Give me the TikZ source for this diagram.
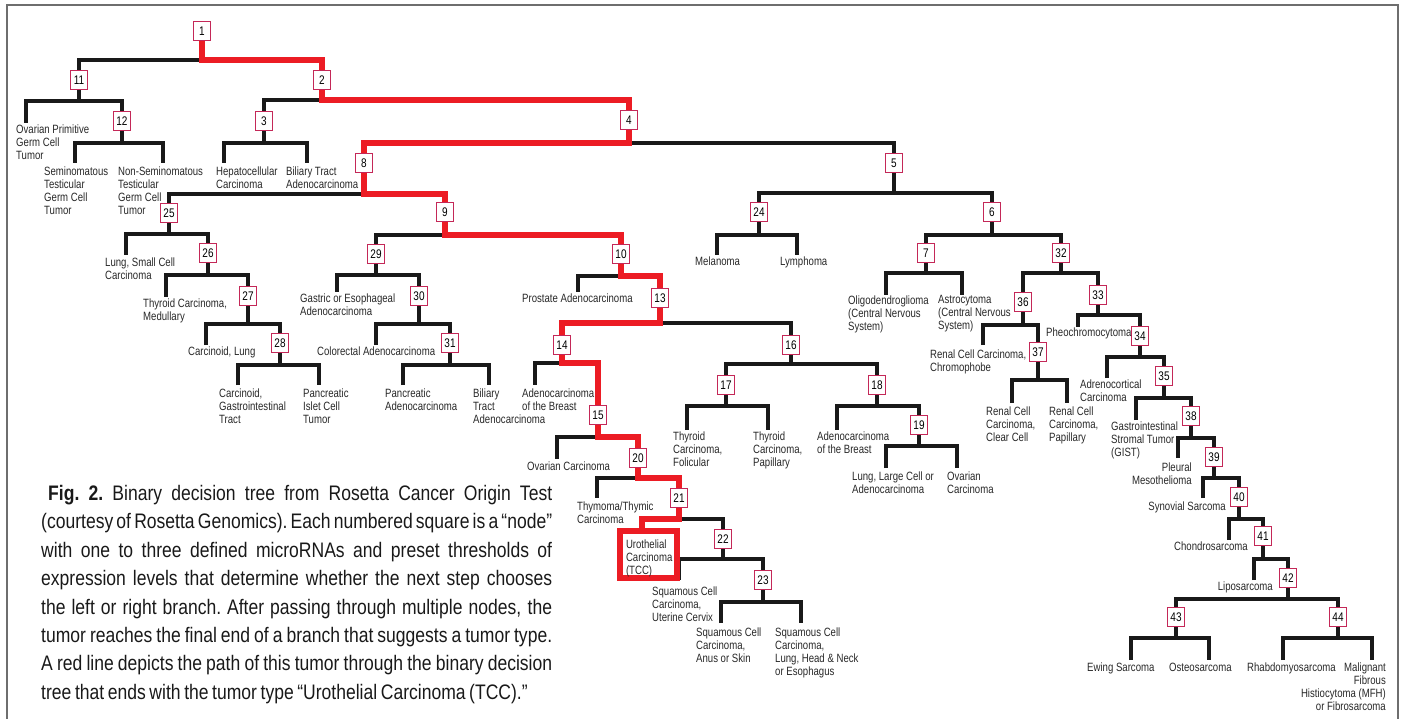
\documentclass[tikz,border=0pt]{standalone}
\usepackage{fontspec}
\setmainfont{Liberation Sans}[FakeStretch=0.8]
\newfontfamily\capfont{Liberation Sans}[FakeStretch=0.835]
\usetikzlibrary{calc}
\pgfdeclarelayer{bg}
\pgfsetlayers{bg,main}
\definecolor{boxc}{RGB}{196,40,88}
\definecolor{redc}{RGB}{236,28,36}
\definecolor{labc}{RGB}{40,40,40}
\definecolor{framec}{RGB}{110,110,110}
\begin{document}
\begin{tikzpicture}[x=1pt,y=-1pt,
  box/.style={draw=boxc, line width=1.4pt, fill=white, minimum width=17.5pt, minimum height=18.5pt, inner sep=0pt, font=\fontsize{12.5}{13}\selectfont},
  leaf/.style={anchor=north west, inner sep=0pt, align=left, text=labc, font=\fontsize{12}{13}\selectfont},
  leafr/.style={leaf, anchor=north east, align=right},
  blk/.style={line width=4.3pt, draw=black!90},
  redp/.style={line width=6pt, draw=redc},
]
\useasboundingbox (0,0) rectangle (1403,719);
\draw[framec, line width=1.5pt] (7,719) -- (7,5) -- (1398,5) -- (1398,719);

% ---------- boxes ----------
\node[box] (n1) at (202,31) {1};
\node[box] (n2) at (322,80) {2};
\node[box] (n3) at (264,121) {3};
\node[box] (n4) at (629,120) {4};
\node[box] (n5) at (894,163) {5};
\node[box] (n6) at (992,212) {6};
\node[box] (n7) at (926,253) {7};
\node[box] (n8) at (364,163) {8};
\node[box] (n9) at (445,212) {9};
\node[box] (n10) at (621,254) {10};
\node[box] (n11) at (79,80) {11};
\node[box] (n12) at (122,121) {12};
\node[box] (n13) at (660,298) {13};
\node[box] (n14) at (562,345) {14};
\node[box] (n15) at (598,415) {15};
\node[box] (n16) at (791,345) {16};
\node[box] (n17) at (726,385) {17};
\node[box] (n18) at (877,385) {18};
\node[box] (n19) at (919,425) {19};
\node[box] (n20) at (638,458) {20};
\node[box] (n21) at (679,498) {21};
\node[box] (n22) at (723,539) {22};
\node[box] (n23) at (763,580) {23};
\node[box] (n24) at (759,212) {24};
\node[box] (n25) at (169,213) {25};
\node[box] (n26) at (208,253) {26};
\node[box] (n27) at (248,296) {27};
\node[box] (n28) at (280,343) {28};
\node[box] (n29) at (376,254) {29};
\node[box] (n30) at (419,296) {30};
\node[box] (n31) at (450,343) {31};
\node[box] (n32) at (1061,253) {32};
\node[box] (n33) at (1098,295) {33};
\node[box] (n34) at (1140,336) {34};
\node[box] (n35) at (1164,376) {35};
\node[box] (n36) at (1023,302) {36};
\node[box] (n37) at (1038,352) {37};
\node[box] (n38) at (1191,416) {38};
\node[box] (n39) at (1214,457) {39};
\node[box] (n40) at (1239,497) {40};
\node[box] (n41) at (1263,536) {41};
\node[box] (n42) at (1288,578) {42};
\node[box] (n43) at (1176,617) {43};
\node[box] (n44) at (1338,617) {44};

\node[draw=redc, line width=6pt, fill=white, minimum width=57pt, minimum height=47pt, inner xsep=6pt, inner ysep=0pt, text width=45pt, align=left, text=labc, font=\fontsize{12}{13}\selectfont] (uro) at (648.5,554.5) {\rule{0pt}{16pt}Urothelial\\Carcinoma\\(TCC)};

% ---------- junctions ----------
\coordinate (n1j) at (202,60);   \coordinate (n2j) at (322,100);
\coordinate (n3j) at (264,143);  \coordinate (n4j) at (629,143);
\coordinate (n5j) at (894,193);  \coordinate (n6j) at (992,235);
\coordinate (n7j) at (926,273);  \coordinate (n8j) at (364,194);
\coordinate (n9j) at (445,235);  \coordinate (n10j) at (621,276);
\coordinate (n11j) at (79,101);  \coordinate (n12j) at (122,143);
\coordinate (n13j) at (660,323); \coordinate (n14j) at (562,363);
\coordinate (n15j) at (598,437); \coordinate (n16j) at (791,364);
\coordinate (n17j) at (726,406); \coordinate (n18j) at (877,406);
\coordinate (n19j) at (919,446); \coordinate (n20j) at (638,478);
\coordinate (n21j) at (679,519); \coordinate (n22j) at (723,559);
\coordinate (n23j) at (763,602); \coordinate (n24j) at (759,235);
\coordinate (n25j) at (169,234); \coordinate (n26j) at (208,275);
\coordinate (n27j) at (248,324); \coordinate (n28j) at (280,365);
\coordinate (n29j) at (376,275); \coordinate (n30j) at (419,324);
\coordinate (n31j) at (450,365); \coordinate (n32j) at (1061,273);
\coordinate (n33j) at (1098,315);\coordinate (n34j) at (1140,357);
\coordinate (n35j) at (1164,398);\coordinate (n36j) at (1023,325);
\coordinate (n37j) at (1038,380);\coordinate (n38j) at (1191,438);
\coordinate (n39j) at (1214,478);\coordinate (n40j) at (1239,519);
\coordinate (n41j) at (1263,559);\coordinate (n42j) at (1288,599);
\coordinate (n43j) at (1176,638);\coordinate (n44j) at (1338,638);
\coordinate (urotop) at ($(uro.north)+(-6.5,0)$);

% ---------- leaf stem ends ----------
\coordinate (s11a) at (26,123);  \coordinate (s12a) at (75,163);
\coordinate (s12b) at (163,163); \coordinate (s3a) at (224,163);
\coordinate (s3b) at (307,163);  \coordinate (s25a) at (126,255);
\coordinate (s26a) at (166,297); \coordinate (s27a) at (206,345);
\coordinate (s28a) at (238,385); \coordinate (s28b) at (319,385);
\coordinate (s29a) at (337,292); \coordinate (s30a) at (376,345);
\coordinate (s31a) at (403,385); \coordinate (s31b) at (489,385);
\coordinate (s10a) at (578,292); \coordinate (s14a) at (535,385);
\coordinate (s15a) at (557,459); \coordinate (s20a) at (597,498);
\coordinate (s22a) at (679,580); \coordinate (s23a) at (721,623);
\coordinate (s23b) at (801,623); \coordinate (s17a) at (687,430);
\coordinate (s17b) at (768,430); \coordinate (s18a) at (837,430);
\coordinate (s19a) at (886,468); \coordinate (s19b) at (957,468);
\coordinate (s24a) at (717,255); \coordinate (s24b) at (797,255);
\coordinate (s7a) at (886,295);  \coordinate (s7b) at (962,295);
\coordinate (s36a) at (983,345); \coordinate (s37a) at (1012,403);
\coordinate (s37b) at (1067,403);\coordinate (s33a) at (1078,327);
\coordinate (s34a) at (1107,378);\coordinate (s35a) at (1136,420);
\coordinate (s38a) at (1178,458);\coordinate (s39a) at (1203,498);
\coordinate (s40a) at (1229,540);\coordinate (s41a) at (1254,580);
\coordinate (s43a) at (1131,660);\coordinate (s43b) at (1209,660);
\coordinate (s44a) at (1283,660);\coordinate (s44b) at (1372,660);

% ---------- leaf labels ----------
\node[leaf] (t11a) at (16,124.5) {Ovarian Primitive\\Germ Cell\\Tumor};
\node[leaf] (t12a) at (44,166.5) {Seminomatous\\Testicular\\Germ Cell\\Tumor};
\node[leaf] (t12b) at (118,166.5) {Non-Seminomatous\\Testicular\\Germ Cell\\Tumor};
\node[leaf] (t3a) at (216,166.5) {Hepatocellular\\Carcinoma};
\node[leaf] (t3b) at (286,166.5) {Biliary Tract\\Adenocarcinoma};
\node[leaf] (t25a) at (105,257.5) {Lung, Small Cell\\Carcinoma};
\node[leaf] (t26a) at (143,298.5) {Thyroid Carcinoma,\\Medullary};
\node[leaf] (t27a) at (188,346.5) {Carcinoid, Lung};
\node[leaf] (t28a) at (219,388.5) {Carcinoid,\\Gastrointestinal\\Tract};
\node[leaf] (t28b) at (303,388.5) {Pancreatic\\Islet Cell\\Tumor};
\node[leaf] (t29a) at (300,293.5) {Gastric or Esophageal\\Adenocarcinoma};
\node[leaf] (t30a) at (317,346.5) {Colorectal Adenocarcinoma};
\node[leaf] (t31a) at (385,388.5) {Pancreatic\\Adenocarcinoma};
\node[leaf] (t31b) at (473,388.5) {Biliary\\Tract\\Adenocarcinoma};
\node[leaf] (t10a) at (522,293.5) {Prostate Adenocarcinoma};
\node[leaf] (t14a) at (522,388.5) {Adenocarcinoma\\of the Breast};
\node[leaf] (t15a) at (527,461.5) {Ovarian Carcinoma};
\node[leaf] (t20a) at (577,501.5) {Thymoma/Thymic\\Carcinoma};
\node[leaf] (t22a) at (652,586.5) {Squamous Cell\\Carcinoma,\\Uterine Cervix};
\node[leaf] (t23a) at (696,627.5) {Squamous Cell\\Carcinoma,\\Anus or Skin};
\node[leaf] (t23b) at (775,627.5) {Squamous Cell\\Carcinoma,\\Lung, Head \& Neck\\or Esophagus};
\node[leaf] (t17a) at (673,431.5) {Thyroid\\Carcinoma,\\Folicular};
\node[leaf] (t17b) at (753,431.5) {Thyroid\\Carcinoma,\\Papillary};
\node[leaf] (t18a) at (817,431.5) {Adenocarcinoma\\of the Breast};
\node[leaf] (t19a) at (852,471.5) {Lung, Large Cell or\\Adenocarcinoma};
\node[leaf] (t19b) at (947,471.5) {Ovarian\\Carcinoma};
\node[leaf] (t24a) at (695,256.5) {Melanoma};
\node[leaf] (t24b) at (780,256.5) {Lymphoma};
\node[leaf] (t7a) at (848,295.5) {Oligodendroglioma\\(Central Nervous\\System)};
\node[leaf] (t7b) at (938,295.5) {Astrocytoma\\(Central Nervous\\System)};
\node[leaf] (t36a) at (930,349.5) {Renal Cell Carcinoma,\\Chromophobe};
\node[leaf] (t37a) at (986,406.5) {Renal Cell\\Carcinoma,\\Clear Cell};
\node[leaf] (t37b) at (1049,406.5) {Renal Cell\\Carcinoma,\\Papillary};
\node[leaf] (t33a) at (1046,327.5) {Pheochromocytoma};
\node[leaf] (t34a) at (1080,379.5) {Adrenocortical\\Carcinoma};
\node[leaf] (t35a) at (1111,421.5) {Gastrointestinal\\Stromal Tumor\\(GIST)};
\node[leafr] (t38a) at (1192,462.5) {Pleural\\Mesothelioma};
\node[leafr] (t39a) at (1226,501.5) {Synovial Sarcoma};
\node[leafr] (t40a) at (1248,541.5) {Chondrosarcoma};
\node[leafr] (t41a) at (1273,581.5) {Liposarcoma};
\node[leaf] (t43a) at (1087,662.5) {Ewing Sarcoma};
\node[leaf] (t43b) at (1169,662.5) {Osteosarcoma};
\node[leaf] (t44a) at (1247,662.5) {Rhabdomyosarcoma};
\node[leafr] (t44b) at (1386,662.5) {Malignant\\Fibrous\\Histiocytoma (MFH)\\or Fibrosarcoma};

% ---------- caption ----------
\node[anchor=north west, inner sep=0pt, text width=511pt, align=justify, text=black!90, font=\capfont\fontsize{21}{28.4}\selectfont] (cap) at (41,485) {\spaceskip=3.6pt plus 12pt minus 1.3pt\xspaceskip=\spaceskip\hspace*{7pt}\textbf{Fig. 2.} Binary decision tree from Rosetta Cancer Origin Test\linebreak (courtesy of Rosetta Genomics). Each numbered square is a “node”\linebreak with one to three defined microRNAs and preset thresholds of\linebreak expression levels that determine whether the next step chooses\linebreak the left or right branch. After passing through multiple nodes, the\linebreak tumor reaches the final end of a branch that suggests a tumor type.\linebreak A red line depicts the path of this tumor through the binary decision\linebreak tree that ends with the tumor type “Urothelial Carcinoma (TCC).”};

% ---------- connectors ----------
\begin{pgfonlayer}{bg}
% black branches of red-path nodes
\draw[blk] (n1j) -| (n11.north);
\draw[blk] (n2j) -| (n3.north);
\draw[blk] (n4j) -| (n5.north);
\draw[blk] (n8j) -| (n25.north);
\draw[blk] (n9j) -| (n29.north);
\draw[blk] (n10j) -| (s10a);
\draw[blk] (n13j) -| (n16.north);
\draw[blk] (n14j) -| (s14a);
\draw[blk] (n15j) -| (s15a);
\draw[blk] (n20j) -| (s20a);
\draw[blk] (n21j) -| (n22.north);
% black-only nodes
\draw[blk] (n11.south) -- (n11j); \draw[blk] (s11a) |- (n11j) -| (n12.north);
\draw[blk] (n12.south) -- (n12j); \draw[blk] (s12a) |- (n12j) -| (s12b);
\draw[blk] (n3.south) -- (n3j);   \draw[blk] (s3a) |- (n3j) -| (s3b);
\draw[blk] (n5.south) -- (n5j);   \draw[blk] (n24.north) |- (n5j) -| (n6.north);
\draw[blk] (n24.south) -- (n24j); \draw[blk] (s24a) |- (n24j) -| (s24b);
\draw[blk] (n6.south) -- (n6j);   \draw[blk] (n7.north) |- (n6j) -| (n32.north);
\draw[blk] (n7.south) -- (n7j);   \draw[blk] (s7a) |- (n7j) -| (s7b);
\draw[blk] (n25.south) -- (n25j); \draw[blk] (s25a) |- (n25j) -| (n26.north);
\draw[blk] (n26.south) -- (n26j); \draw[blk] (s26a) |- (n26j) -| (n27.north);
\draw[blk] (n27.south) -- (n27j); \draw[blk] (s27a) |- (n27j) -| (n28.north);
\draw[blk] (n28.south) -- (n28j); \draw[blk] (s28a) |- (n28j) -| (s28b);
\draw[blk] (n29.south) -- (n29j); \draw[blk] (s29a) |- (n29j) -| (n30.north);
\draw[blk] (n30.south) -- (n30j); \draw[blk] (s30a) |- (n30j) -| (n31.north);
\draw[blk] (n31.south) -- (n31j); \draw[blk] (s31a) |- (n31j) -| (s31b);
\draw[blk] (n16.south) -- (n16j); \draw[blk] (n17.north) |- (n16j) -| (n18.north);
\draw[blk] (n17.south) -- (n17j); \draw[blk] (s17a) |- (n17j) -| (s17b);
\draw[blk] (n18.south) -- (n18j); \draw[blk] (s18a) |- (n18j) -| (n19.north);
\draw[blk] (n19.south) -- (n19j); \draw[blk] (s19a) |- (n19j) -| (s19b);
\draw[blk] (n22.south) -- (n22j); \draw[blk] (s22a) |- (n22j) -| (n23.north);
\draw[blk] (n23.south) -- (n23j); \draw[blk] (s23a) |- (n23j) -| (s23b);
\draw[blk] (n32.south) -- (n32j); \draw[blk] (n36.north) |- (n32j) -| (n33.north);
\draw[blk] (n36.south) -- (n36j); \draw[blk] (s36a) |- (n36j) -| (n37.north);
\draw[blk] (n37.south) -- (n37j); \draw[blk] (s37a) |- (n37j) -| (s37b);
\draw[blk] (n33.south) -- (n33j); \draw[blk] (s33a) |- (n33j) -| (n34.north);
\draw[blk] (n34.south) -- (n34j); \draw[blk] (s34a) |- (n34j) -| (n35.north);
\draw[blk] (n35.south) -- (n35j); \draw[blk] (s35a) |- (n35j) -| (n38.north);
\draw[blk] (n38.south) -- (n38j); \draw[blk] (s38a) |- (n38j) -| (n39.north);
\draw[blk] (n39.south) -- (n39j); \draw[blk] (s39a) |- (n39j) -| (n40.north);
\draw[blk] (n40.south) -- (n40j); \draw[blk] (s40a) |- (n40j) -| (n41.north);
\draw[blk] (n41.south) -- (n41j); \draw[blk] (s41a) |- (n41j) -| (n42.north);
\draw[blk] (n42.south) -- (n42j); \draw[blk] (n43.north) |- (n42j) -| (n44.north);
\draw[blk] (n43.south) -- (n43j); \draw[blk] (s43a) |- (n43j) -| (s43b);
\draw[blk] (n44.south) -- (n44j); \draw[blk] (s44a) |- (n44j) -| (s44b);
% red path
\draw[redp] (n1.south) -- (n1j) -| (n2.north);
\draw[redp] (n2.south) -- (n2j) -| (n4.north);
\draw[redp] (n4.south) -- (n4j) -| (n8.north);
\draw[redp] (n8.south) -- (n8j) -| (n9.north);
\draw[redp] (n9.south) -- (n9j) -| (n10.north);
\draw[redp] (n10.south) -- (n10j) -| (n13.north);
\draw[redp] (n13.south) -- (n13j) -| (n14.north);
\draw[redp] (n14.south) -- (n14j) -| (n15.north);
\draw[redp] (n15.south) -- (n15j) -| (n20.north);
\draw[redp] (n20.south) -- (n20j) -| (n21.north);
\draw[redp] (n21.south) -- (n21j) -| (urotop);
\end{pgfonlayer}
\end{tikzpicture}
\end{document}
